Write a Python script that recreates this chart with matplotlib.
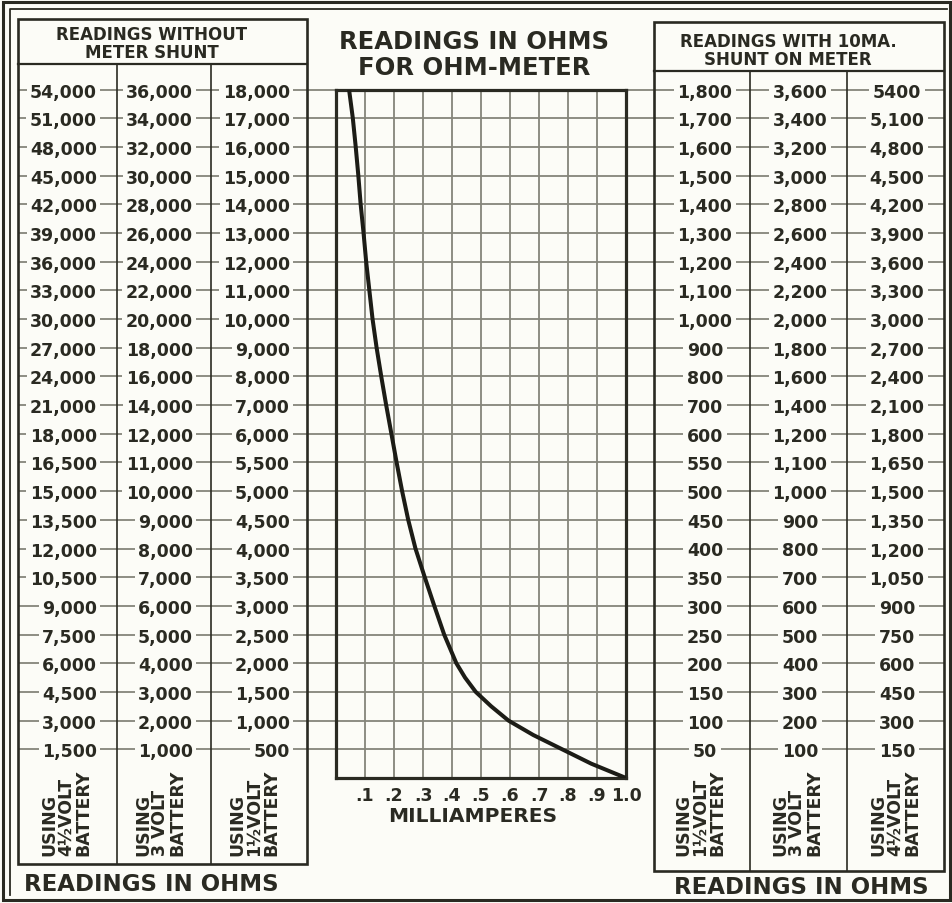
import numpy as np
import matplotlib
matplotlib.use("Agg")
import matplotlib.pyplot as plt
from matplotlib.patches import Rectangle
from matplotlib.transforms import blended_transform_factory

# scale labels, top row first
left_45 = ["54,000", "51,000", "48,000", "45,000", "42,000", "39,000", "36,000", "33,000",
           "30,000", "27,000", "24,000", "21,000", "18,000", "16,500", "15,000", "13,500",
           "12,000", "10,500", "9,000", "7,500", "6,000", "4,500", "3,000", "1,500"]
left_3 = ["36,000", "34,000", "32,000", "30,000", "28,000", "26,000", "24,000", "22,000",
          "20,000", "18,000", "16,000", "14,000", "12,000", "11,000", "10,000", "9,000",
          "8,000", "7,000", "6,000", "5,000", "4,000", "3,000", "2,000", "1,000"]
left_15 = ["18,000", "17,000", "16,000", "15,000", "14,000", "13,000", "12,000", "11,000",
           "10,000", "9,000", "8,000", "7,000", "6,000", "5,500", "5,000", "4,500",
           "4,000", "3,500", "3,000", "2,500", "2,000", "1,500", "1,000", "500"]
right_15 = ["1,800", "1,700", "1,600", "1,500", "1,400", "1,300", "1,200", "1,100",
            "1,000", "900", "800", "700", "600", "550", "500", "450",
            "400", "350", "300", "250", "200", "150", "100", "50"]
right_3 = ["3,600", "3,400", "3,200", "3,000", "2,800", "2,600", "2,400", "2,200",
           "2,000", "1,800", "1,600", "1,400", "1,200", "1,100", "1,000", "900",
           "800", "700", "600", "500", "400", "300", "200", "100"]
right_45 = ["5400", "5,100", "4,800", "4,500", "4,200", "3,900", "3,600", "3,300",
            "3,000", "2,700", "2,400", "2,100", "1,800", "1,650", "1,500", "1,350",
            "1,200", "1,050", "900", "750", "600", "450", "300", "150"]

left_batt = ["USING\n4½VOLT\nBATTERY", "USING\n3 VOLT\nBATTERY", "USING\n1½VOLT\nBATTERY"]
right_batt = ["USING\n1½VOLT\nBATTERY", "USING\n3 VOLT\nBATTERY", "USING\n4½VOLT\nBATTERY"]

# curve: row position (0 = bottom edge) vs milliamperes
curve_row = [0, 0.5, 1, 1.5, 2, 2.5, 3, 3.5, 4, 5, 6, 7, 8, 9, 10, 11, 12,
             13, 14, 15, 16, 17, 18, 19, 20, 21, 22, 23, 24]
curve_ma = [1.0, 0.88, 0.78, 0.68, 0.595, 0.535, 0.482, 0.445, 0.415, 0.373, 0.339, 0.306,
            0.274, 0.249, 0.228, 0.209, 0.191, 0.173, 0.156, 0.140, 0.126, 0.115, 0.104,
            0.095, 0.085, 0.077, 0.068, 0.058, 0.045]

ma_ticks = [0, .1, .2, .3, .4, .5, .6, .7, .8, .9, 1.0]
ma_labels = ["", ".1", ".2", ".3", ".4", ".5", ".6", ".7", ".8", ".9", "1.0"]

paper = "#fcfcf7"
ink = "#2a2a22"
grid = "#85857a"

plt.rcParams['font.family'] = ['DejaVu Sans']
plt.rcParams['font.weight'] = 'bold'

fig = plt.figure(figsize=(9.53, 9.04), dpi=100, facecolor=paper)
bg = fig.add_axes([0, 0, 1, 1])
bg.set_xlim(0, 953)
bg.set_ylim(904, 0)
bg.axis('off')

ax = fig.add_axes([336 / 953, (904 - 779) / 904, 290 / 953, (779 - 90.5) / 904])
ax.set_facecolor('none')
ax.set_xlim(0, 1)
ax.set_ylim(0, 24)
ax.set_xticks(ma_ticks)
ax.set_xticklabels(ma_labels, fontsize=12.5, color=ink, fontweight='bold')
ax.set_yticks([])
ax.tick_params(length=0, pad=6)
ax.grid(axis='x', color=grid, lw=1.3)
for s in ax.spines.values():
    s.set_linewidth(2.3)
    s.set_color(ink)
ax.plot(curve_ma, curve_row, color="#1c1c16", lw=2.9, solid_capstyle='round',
        solid_joinstyle='round', zorder=5)

# row lines run across both tables and the graph
tr = blended_transform_factory(bg.transData, ax.transData)
nrows = len(left_15)
rows = [nrows - i for i in range(nrows)]
bg.hlines(rows, 18, 944, transform=tr, color=grid, lw=1.3, zorder=1)

# outer double border
bg.add_patch(Rectangle((3, 3), 947, 898, fill=False, lw=2.2, ec=ink))
bg.plot([10, 10, 947], [896, 10, 10], color=ink, lw=1.3)

# left table
bg.add_patch(Rectangle((18, 20), 289, 845, fill=False, lw=1.9, ec=ink, zorder=3))
bg.plot([18, 307], [65, 65], color=ink, lw=1.6, zorder=3)
for x in (117, 211):
    bg.plot([x, x], [65, 865], color=ink, lw=1.2, zorder=3)

# right table
bg.add_patch(Rectangle((654, 23), 290, 849, fill=False, lw=1.9, ec=ink, zorder=3))
bg.plot([654, 944], [72, 72], color=ink, lw=1.6, zorder=3)
for x in (750, 847):
    bg.plot([x, x], [72, 872], color=ink, lw=1.2, zorder=3)

box = dict(boxstyle='square,pad=0.2', fc=paper, ec='none')
num_kw = dict(fontsize=12.5, color=ink, va='center_baseline', transform=tr, bbox=box, zorder=4)
for col, xr in zip((left_45, left_3, left_15), (97, 193, 290)):
    for lab, r in zip(col, rows):
        bg.text(xr, r, lab, ha='right', **num_kw)
for col, xc in zip((right_15, right_3, right_45), (705, 800, 897)):
    for lab, r in zip(col, rows):
        bg.text(xc, r, lab, ha='center', **num_kw)

for lab, xc in zip(left_batt, (66, 160, 254)):
    bg.text(xc, 856, lab, rotation=90, ha='center', va='bottom', multialignment='left',
            fontsize=12.5, color=ink, linespacing=0.92)
for lab, xc in zip(right_batt, (700, 797, 895)):
    bg.text(xc, 856, lab, rotation=90, ha='center', va='bottom', multialignment='left',
            fontsize=12.5, color=ink, linespacing=0.92)

# headings
bg.text(152, 44, "READINGS WITHOUT\nMETER SHUNT", ha='center', va='center', fontsize=12,
        color=ink, linespacing=1.0)
bg.text(788, 51, "READINGS WITH 10MA.\nSHUNT ON METER", ha='center', va='center', fontsize=12,
        color=ink, linespacing=1.0)
bg.text(474, 55, "READINGS IN OHMS\nFOR OHM-METER", ha='center', va='center', fontsize=17.5,
        color=ink, linespacing=1.1)
bg.text(473, 817, "MILLIAMPERES", ha='center', va='center', fontsize=14.5, color=ink)
bg.text(151, 885, "READINGS IN OHMS", ha='center', va='center', fontsize=16.5, color=ink)
bg.text(801, 888, "READINGS IN OHMS", ha='center', va='center', fontsize=16.5, color=ink)

fig.savefig("out.png", dpi=100, facecolor=paper)
